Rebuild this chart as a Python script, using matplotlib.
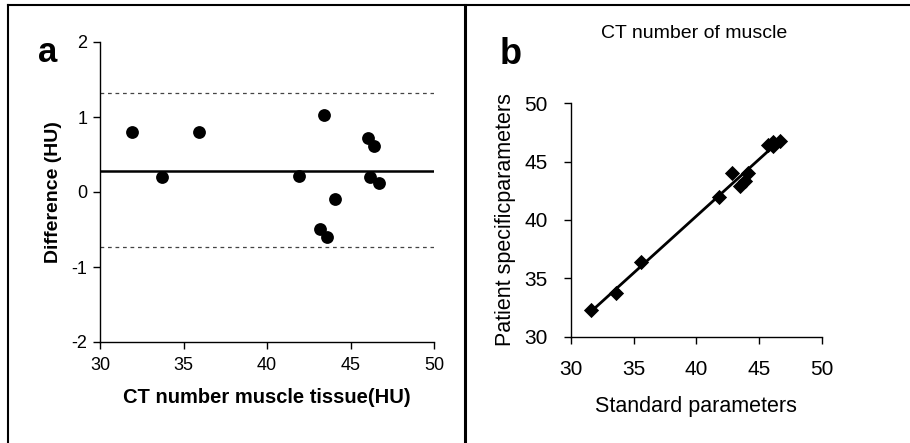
import numpy as np
import matplotlib
matplotlib.use("Agg")
import matplotlib.pyplot as plt
from matplotlib.lines import Line2D

plt.rcParams['font.family'] = ['Liberation Sans', 'DejaVu Sans']
plt.rcParams['axes.unicode_minus'] = False

# Panel a: Bland-Altman data
ba_mean = [31.9, 33.7, 35.95, 41.9, 43.4, 43.2, 43.6, 44.07, 46.07, 46.4, 46.17, 46.7]
ba_diff = [0.8, 0.2, 0.8, 0.21, 1.02, -0.5, -0.6, -0.1, 0.72, 0.61, 0.2, 0.12]
ba_bias = 0.28
ba_limits = [1.32, -0.74]

# Panel b: standard vs patient-specific parameters
std_param = [31.6, 33.6, 35.55, 41.8, 42.85, 43.45, 43.9, 44.15, 45.7, 46.1, 46.1, 46.65]
pat_param = [32.3, 33.75, 36.4, 42.0, 44.0, 42.9, 43.3, 44.0, 46.4, 46.7, 46.3, 46.8]

xticks = [30, 35, 40, 45, 50]
yticks_a = [-2, -1, 0, 1, 2]
yticks_b = [30, 35, 40, 45, 50]

fig = plt.figure(figsize=(9.1, 4.43), dpi=100)

# frame lines
fig.add_artist(Line2D([8/910, 1.0], [1 - 5/443, 1 - 5/443], transform=fig.transFigure, color='black', lw=1.5))
fig.add_artist(Line2D([8/910, 8/910], [0, 1 - 5/443], transform=fig.transFigure, color='black', lw=1.5))
fig.add_artist(Line2D([465.5/910, 465.5/910], [0, 1 - 5/443], transform=fig.transFigure, color='black', lw=2.2))

# Panel a
axa = fig.add_axes([100/910, 1 - 342/443, 334/910, 300/443])
axa.scatter(ba_mean, ba_diff, s=85, color='black', zorder=3, linewidths=0)
axa.axhline(ba_bias, color='black', lw=1.8)
for lim in ba_limits:
    axa.axhline(lim, color='#444444', lw=0.9, ls=(0, (3, 3)))
axa.set_xlim(30, 50)
axa.set_ylim(-2, 2)
axa.set_xticks(xticks)
axa.set_yticks(yticks_a)
for sp in ['top', 'right']:
    axa.spines[sp].set_visible(False)
for sp in ['left', 'bottom']:
    axa.spines[sp].set_linewidth(1.0)
axa.tick_params(direction='out', length=5, width=1.0, labelsize=13)
axa.tick_params(axis='x', pad=6)
axa.tick_params(axis='y', pad=4)
axa.set_xlabel('CT number muscle tissue(HU)', fontsize=14.5, fontweight='bold', labelpad=10)
axa.set_ylabel('Difference (HU)', fontsize=14, fontweight='bold', labelpad=7)
fig.text(38/910, 1 - 52/443, 'a', fontsize=25, fontweight='bold', ha='left', va='center')

# Panel b
axb = fig.add_axes([571/910, 1 - 336.7/443, 250.7/910, 233.4/443])
axb.scatter(std_param, pat_param, marker='D', s=60, color='black', zorder=3, linewidths=0)
coef = np.polyfit(std_param, pat_param, 1)
xf = np.array([min(std_param), max(std_param)])
axb.plot(xf, np.polyval(coef, xf), color='black', lw=2.0)
axb.set_xlim(30, 50)
axb.set_ylim(30, 50)
axb.set_xticks(xticks)
axb.set_yticks(yticks_b)
for sp in ['top', 'right']:
    axb.spines[sp].set_visible(False)
for sp in ['left', 'bottom']:
    axb.spines[sp].set_linewidth(1.0)
axb.tick_params(direction='out', length=5, width=1.0, labelsize=15)
axb.tick_params(axis='x', pad=12)
axb.tick_params(axis='y', pad=12)
axb.set_xlabel('Standard parameters', fontsize=15.5, labelpad=12)
axb.set_ylabel('Patient specificparameters', fontsize=15.5, labelpad=6)
fig.text(694/910, 1 - 33/443, 'CT number of muscle', fontsize=14, ha='center', va='center')
fig.text(500/910, 1 - 54/443, 'b', fontsize=26, fontweight='bold', ha='left', va='center')

fig.savefig('out.png', dpi=100)
